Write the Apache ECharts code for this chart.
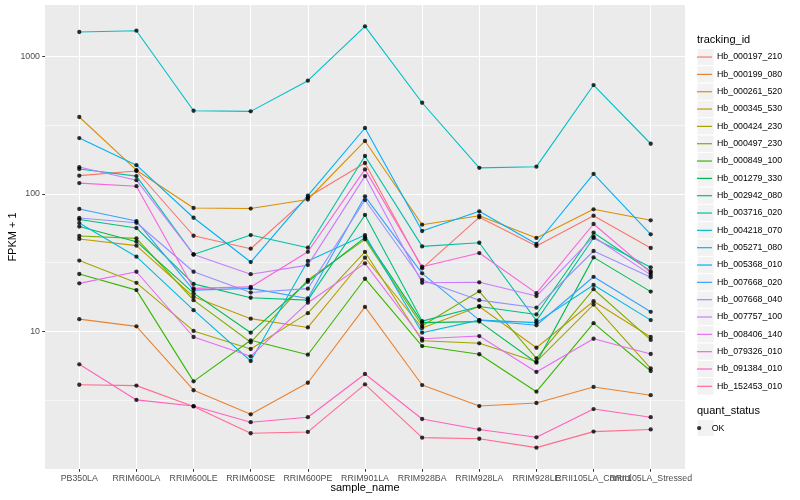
<!DOCTYPE html>
<html><head><meta charset="utf-8">
<script src="https://cdn.jsdelivr.net/npm/echarts@6.0.0/dist/echarts.min.js"></script>
<style>html,body{margin:0;padding:0;background:#fff}#c{width:800px;height:500px}</style>
</head><body><div id="c"></div>
<script>
const samples = ["PB350LA","RRIM600LA","RRIM600LE","RRIM600SE","RRIM600PE","RRIM901LA","RRIM928BA","RRIM928LA","RRIM928LE","RRII105LA_Control","RRII105LA_Stressed"];
const trackingIds = ["Hb_000197_210","Hb_000199_080","Hb_000261_520","Hb_000345_530","Hb_000424_230","Hb_000497_230","Hb_000849_100","Hb_001279_330","Hb_002942_080","Hb_003716_020","Hb_004218_070","Hb_005271_080","Hb_005368_010","Hb_007668_020","Hb_007668_040","Hb_007757_100","Hb_008406_140","Hb_079326_010","Hb_091384_010","Hb_152453_010"];
const colors = ["#F8766D","#EA8331","#D89000","#C09B00","#A3A500","#7CAE00","#39B600","#00BB4E","#00BF7D","#00C1A3","#00BFC4","#00BAE0","#00B0F6","#35A2FF","#9590FF","#C77CFF","#E76BF3","#FA62DB","#FF62BC","#FF6C90"];
const yTickLabels = [10, 100, 1000];
const quantStatus = ["OK"];

// FPKM + 1 per sample (order of samples)
const Hb_000197_210 = [136, 147, 49.7, 40.0, 94.6, 168, 28.8, 67.7, 41.9, 69.5, 40.5];
const Hb_000199_080 = [12.3, 10.9, 3.74, 2.50, 4.24, 15.1, 4.08, 2.87, 3.02, 3.95, 3.44];
const Hb_000261_520 = [363, 149, 79.1, 78.4, 91.2, 243, 59.8, 69.5, 47.9, 77.4, 64.4];
const Hb_000345_530 = [47.1, 42.1, 17.9, 12.4, 10.7, 34.4, 10.6, 15.2, 7.62, 16.6, 9.12];
const Hb_000424_230 = [32.8, 22.6, 10.1, 7.46, 13.6, 37.9, 8.57, 8.21, 6.03, 15.7, 5.40];
const Hb_000497_230 = [49.5, 47.6, 16.9, 8.35, 23.7, 46.8, 11.0, 19.6, 6.38, 20.3, 8.68];
const Hb_000849_100 = [26.2, 20.0, 4.34, 8.63, 6.78, 24.2, 7.84, 6.83, 3.65, 11.5, 5.16];
const Hb_001279_330 = [58.0, 45.0, 19.0, 9.80, 23.0, 48.4, 11.6, 11.8, 5.93, 34.6, 19.5];
const Hb_002942_080 = [65.2, 56.6, 22.2, 17.6, 16.9, 70.4, 11.9, 15.2, 13.3, 52.3, 27.5];
const Hb_003716_020 = [152, 135, 36.3, 50.3, 40.7, 189, 41.6, 44.2, 12.0, 47.9, 29.3];
const Hb_004218_070 = [1507, 1540, 403, 399, 667, 1658, 461, 155, 158, 620, 232];
const Hb_005271_080 = [61.5, 35.0, 14.3, 6.10, 32.6, 50.3, 9.80, 12.1, 11.6, 21.8, 12.1];
const Hb_005368_010 = [255, 162, 67.2, 32.0, 97.2, 302, 53.8, 74.8, 43.3, 140, 50.9];
const Hb_007668_020 = [77.8, 63.6, 20.0, 20.6, 17.4, 96.2, 26.5, 12.1, 11.1, 25.0, 13.9];
const Hb_007668_040 = [66.9, 61.8, 27.2, 19.2, 20.5, 90.4, 23.7, 16.9, 14.9, 38.5, 24.8];
const Hb_007757_100 = [157, 126, 36.3, 26.1, 30.4, 135, 22.6, 22.8, 18.1, 48.9, 25.8];
const Hb_008406_140 = [22.4, 27.2, 9.12, 6.60, 16.2, 31.3, 8.86, 9.27, 5.08, 8.86, 6.86];
const Hb_079326_010 = [120, 114, 20.6, 21.1, 38.0, 151, 29.6, 37.2, 19.0, 60.5, 26.8];
const Hb_091384_010 = [5.77, 3.18, 2.87, 2.19, 2.38, 4.91, 2.31, 1.94, 1.70, 2.73, 2.38];
const Hb_152453_010 = [4.10, 4.04, 2.85, 1.82, 1.86, 4.13, 1.69, 1.66, 1.43, 1.87, 1.94];

const seriesValues = [Hb_000197_210, Hb_000199_080, Hb_000261_520, Hb_000345_530, Hb_000424_230, Hb_000497_230, Hb_000849_100, Hb_001279_330, Hb_002942_080, Hb_003716_020, Hb_004218_070, Hb_005271_080, Hb_005368_010, Hb_007668_020, Hb_007668_040, Hb_007757_100, Hb_008406_140, Hb_079326_010, Hb_091384_010, Hb_152453_010];

const FONT = '"Liberation Sans", Arial, Helvetica, sans-serif';
const sampleIdx = samples.map((s, i) => i);
// ggplot draws every label even where two overlap; ECharts would drop one of an overlapping pair,
// so alternate labels are put on two stacked bottom axes that share the same scale.
const labelIdxA = sampleIdx.filter(i => i % 2 === 0);
const labelIdxB = sampleIdx.filter(i => i % 2 === 1);

const series = trackingIds.map((id, k) => ({
  name: id, type: 'line', xAxisIndex: 0, yAxisIndex: 0,
  data: seriesValues[k].map((v, i) => [i, v]),
  symbol: 'none', showSymbol: false, silent: true, animation: false,
  lineStyle: { width: 1.1, color: colors[k] },
  itemStyle: { color: colors[k] },
  emphasis: { disabled: true }, z: 2
}));
const allPoints = [];
seriesValues.forEach(vals => vals.forEach((v, i) => allPoints.push([i, v])));
series.push({
  name: quantStatus[0], type: 'scatter', xAxisIndex: 0, yAxisIndex: 0,
  data: allPoints, symbol: 'circle', symbolSize: 4.3, silent: true, animation: false,
  itemStyle: { color: '#000' }, emphasis: { disabled: true }, z: 3
});

const KEY_X = 697, KEY_TOP = 48.4, KEY_STEP = 17.33;
const graphics = [
  { type: 'text', left: KEY_X, top: 34.5, z: 1, style: { text: 'tracking_id', font: '11px ' + FONT, fill: '#000' } },
  { type: 'text', left: KEY_X, top: 405, z: 1, style: { text: 'quant_status', font: '11px ' + FONT, fill: '#000' } },
  { type: 'rect', z: 0, shape: { x: KEY_X, y: 419.6, width: 17, height: 17 }, style: { fill: '#F2F2F2', stroke: '#fff', lineWidth: 1 } }
];
trackingIds.forEach((id, i) => {
  graphics.push({ type: 'rect', z: 0, shape: { x: KEY_X, y: KEY_TOP + i * KEY_STEP, width: 17, height: KEY_STEP }, style: { fill: '#F2F2F2', stroke: '#fff', lineWidth: 1 } });
});

const labelStyle = { formatter: v => samples[Math.round(v)], fontSize: 8.8, color: '#4D4D4D', margin: 5, fontFamily: FONT, hideOverlap: false, showMinLabel: true, showMaxLabel: true };

const chart = echarts.init(document.getElementById('c'));
chart.setOption({
  animation: false,
  backgroundColor: '#fff',
  textStyle: { fontFamily: FONT },
  grid: { left: 45, right: 115, top: 5, bottom: 31, show: true, backgroundColor: '#EBEBEB', borderWidth: 0, containLabel: false, outerBoundsMode: 'none' },
  xAxis: [
    {
      type: 'value', min: -0.6, max: 10.6, position: 'bottom',
      name: 'sample_name', nameLocation: 'middle', nameGap: 13.5, nameMoveOverlap: false,
      nameTextStyle: { fontSize: 11, color: '#000', fontFamily: FONT },
      axisLine: { show: false, onZero: false },
      axisTick: { show: true, length: 2.75, customValues: sampleIdx, lineStyle: { color: '#333', width: 1 } },
      axisLabel: Object.assign({ customValues: labelIdxA }, labelStyle),
      splitLine: { show: true, lineStyle: { color: '#fff', width: 1.1 } }
    },
    {
      type: 'value', min: -0.6, max: 10.6, position: 'bottom', offset: 0,
      axisLine: { show: false, onZero: false },
      axisTick: { show: false, customValues: labelIdxB },
      axisLabel: Object.assign({ customValues: labelIdxB }, labelStyle),
      splitLine: { show: false }
    }
  ],
  yAxis: [
    {
      type: 'log', logBase: 10, min: 1, max: 2369,
      name: 'FPKM + 1', nameLocation: 'middle', nameGap: 27, nameRotate: 90, nameMoveOverlap: false,
      nameTextStyle: { fontSize: 11, color: '#000', fontFamily: FONT },
      axisLine: { show: false, onZero: false },
      axisTick: { show: true, length: 2.75, lineStyle: { color: '#333', width: 1 } },
      axisLabel: { fontSize: 8.8, color: '#4D4D4D', margin: 5, fontFamily: FONT, showMinLabel: false, showMaxLabel: false,
        formatter: v => { const r = Math.round(v); return yTickLabels.indexOf(r) >= 0 ? String(r) : ''; } },
      splitLine: { show: true, showMinLine: false, showMaxLine: false, lineStyle: { color: '#fff', width: 1.1 } }
    },
    {
      type: 'value', min: 0, max: 3.3745, interval: 0.5, position: 'left',
      axisLine: { show: false, onZero: false }, axisTick: { show: false }, axisLabel: { show: false },
      splitLine: { show: true, showMinLine: false, showMaxLine: false, lineStyle: { color: '#fff', width: 0.55 } }
    }
  ],
  legend: [
    {
      data: trackingIds, orient: 'vertical', left: KEY_X, top: KEY_TOP, padding: 0, itemGap: 0,
      icon: 'rect', itemWidth: 15, itemHeight: 1.2, selectedMode: false, z: 5,
      textStyle: { fontSize: 8.8, color: '#000', lineHeight: KEY_STEP, fontFamily: FONT }
    },
    {
      data: quantStatus, orient: 'vertical', left: KEY_X, top: 419.6, padding: 0, itemGap: 0,
      icon: 'circle', itemWidth: 15, itemHeight: 4.3, selectedMode: false, z: 5,
      itemStyle: { color: '#000' },
      textStyle: { fontSize: 8.8, color: '#000', lineHeight: 17, fontFamily: FONT }
    }
  ],
  graphic: graphics,
  series: series
});
</script></body></html>
